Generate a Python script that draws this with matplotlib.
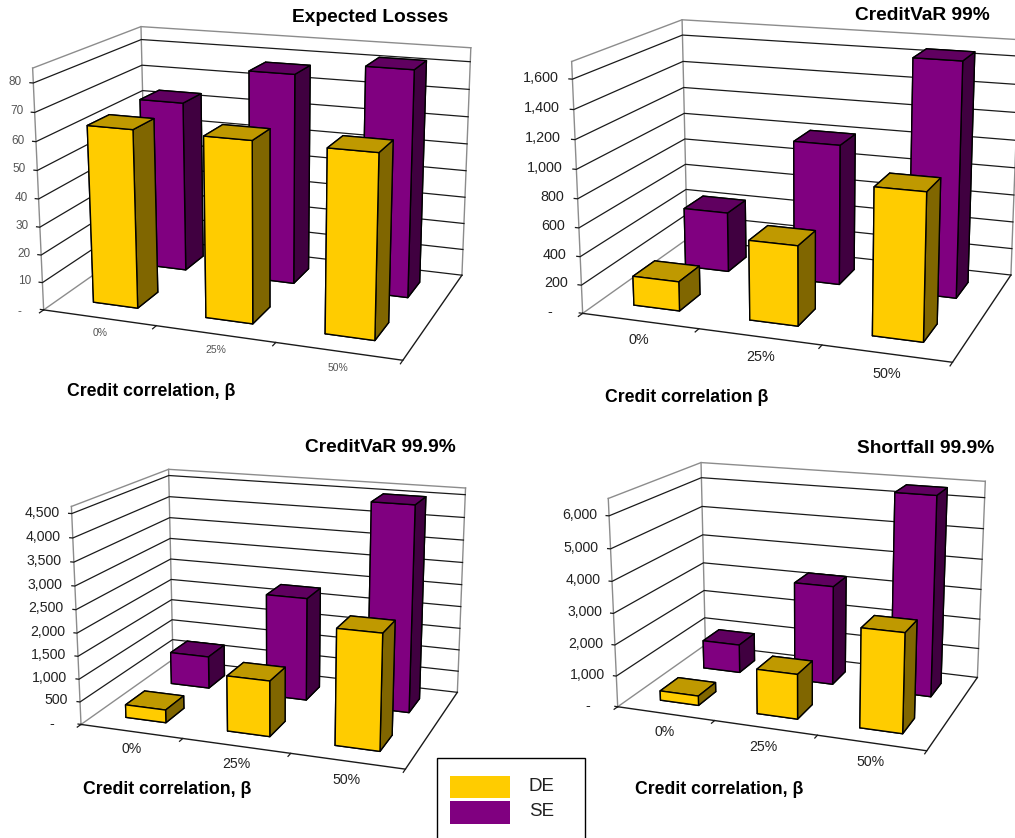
import matplotlib
matplotlib.use('Agg')
import matplotlib.pyplot as plt
from matplotlib.patches import Rectangle
from mpl_toolkits.mplot3d import proj3d

plt.rcParams['font.family'] = ['Liberation Sans', 'DejaVu Sans']

W, H = 1015, 838

categories = ['0%', '25%', '50%']

el_de = [63.7, 63.7, 63.5]
el_se = [63.7, 77.3, 81.9]
el_ticks = [0, 10, 20, 30, 40, 50, 60, 70, 80]

var99_de = [207, 553, 996]
var99_se = [442, 1015, 1660]
var99_ticks = [0, 200, 400, 600, 800, 1000, 1200, 1400, 1600]

var999_de = [283, 1200, 2452]
var999_se = [740, 2320, 4536]
var999_ticks = [0, 500, 1000, 1500, 2000, 2500, 3000, 3500, 4000, 4500]

sf_de = [307, 1420, 3084]
sf_se = [955, 3272, 6431]
sf_ticks = [0, 1000, 2000, 3000, 4000, 5000, 6000]

# front, top and side colours of the bars
de_faces = ['#FFCC00', '#BF9900', '#806600']
se_faces = ['#800080', '#600060', '#400040']

grid_col = '#1a1a1a'
frame_col = '#8c8c8c'


def px(x, y):
    # pixel position, measured from the top left, to figure fraction
    return x / W, 1 - y / H


def tick_text(v):
    return '-' if v == 0 else f'{v:,}'


def put_text(ax, x, y, z, s, **kw):
    # project the 3D position and draw the label as flat text there
    xp, yp, _ = proj3d.proj_transform(x, y, z, ax.get_proj())
    ax.text2D(xp, yp, s, transform=ax.transData, **kw)


def draw_panel(view, scale, x0, y0, zmax, de, se, ticks, tick_fs, cat_fs, txt_col, lab_dx, lab_dy, tick_dx, dash_dx, dash_dz):
    ax = fig.add_axes([0, 0, 1, 1], projection='3d', computed_zorder=False)
    ax.set_axis_off()
    ax.view_init(view[0], view[1], view[2])
    ax.set_proj_type('persp', focal_length=view[3])
    ax.set_box_aspect((1, view[4], view[5]))
    ax.set_xlim(0, 3)
    ax.set_ylim(0, 2)
    ax.set_zlim(0, zmax)

    # place the square axes so the projected box lands where it should
    vl = ax.viewLim
    size = scale * vl.width
    ax.set_position([(x0 + scale * vl.x0) / W, (H - y0 + scale * vl.y0) / H, size / W, size / H])

    # walls and floor edges
    ax.plot([0, 0], [0, 0], [0, zmax], color=frame_col, lw=1, zorder=1)
    ax.plot([0, 0], [2, 2], [0, zmax], color=frame_col, lw=1, zorder=1)
    ax.plot([3, 3], [2, 2], [0, zmax], color=frame_col, lw=1, zorder=1)
    ax.plot([0, 0, 3], [0, 2, 2], [zmax, zmax, zmax], color=frame_col, lw=1, zorder=1)
    ax.plot([0, 0], [0, 2], [0, 0], color=frame_col, lw=1, zorder=1)
    ax.plot([0, 3, 3], [0, 0, 2], [0, 0, 0], color=grid_col, lw=1, zorder=2)
    for v in ticks:
        if v == 0:
            ax.plot([0, 3], [2, 2], [0, 0], color=grid_col, lw=0.9, zorder=2)
            ax.plot([-0.03, 0], [0, 0], [0, 0], color=grid_col, lw=0.9, zorder=2)
            put_text(ax, -(tick_dx + dash_dx), 0, -dash_dz * zmax, tick_text(v),
                     ha='right', va='center', fontsize=tick_fs, color=txt_col)
        else:
            ax.plot([-0.03, 0, 0, 3], [0, 0, 2, 2], [v, v, v, v], color=grid_col, lw=0.9, zorder=2)
            put_text(ax, -tick_dx, 0, v, tick_text(v),
                     ha='right', va='center', fontsize=tick_fs, color=txt_col)

    # category ticks below the front edge
    for i in range(4):
        ax.plot([i, i], [0, -0.07], [0, 0], color=grid_col, lw=0.9, zorder=2)
    for i, name in enumerate(categories):
        put_text(ax, i + 0.5 + lab_dx[i], -lab_dy, 0, name, ha='center', va='center',
                 fontsize=cat_fs, color=txt_col)

    # back row first, then the front row, each from left to right
    order = 3
    for row, values, faces in [(1, se, se_faces), (0, de, de_faces)]:
        for i, v in enumerate(values):
            cols = [faces[1], faces[1], faces[0], faces[0], faces[2], faces[2]]
            ax.bar3d(i + 0.3, row + 0.3, 0, 0.4, 0.4, v, color=cols, shade=False,
                     edgecolor='black', linewidth=1, zorder=order)
            order += 1
    return ax


fig = plt.figure(figsize=(W / 100, H / 100), dpi=100)

draw_panel([15.844, -69.608, 0.098, 0.545, 0.661, 0.665], 2634.11, 259.4, 177.5, 85,
           el_de, el_se, el_ticks, 8.5, 7.5, '#555555', [0.16, 0.13, 0.09], 0.30, 0.10, 0.11, 0.025)
draw_panel([15.377, -70.369, 0.077, 0.545, 0.676, 0.674], 2714.59, 804.3, 174.6, 1715,
           var99_de, var99_se, var99_ticks, 10.4, 10.4, '#222222', [0.17, 0.15, 0.11], 0.36, 0.12, 0.15, 0.012)
draw_panel([15.699, -70.027, 0.023, 0.542, 0.667, 0.665], 2373.95, 275.6, 604.8, 4645,
           var999_de, var999_se, var999_ticks, 10.2, 10.2, '#222222', [0.19, 0.15, 0.11], 0.38, 0.12, 0.16, 0.014)
draw_panel([16.026, -69.597, 0.048, 0.544, 0.656, 0.666], 2265.75, 803.2, 593.0, 6520,
           sf_de, sf_se, sf_ticks, 10.2, 10.2, '#222222', [0.19, 0.15, 0.12], 0.41, 0.12, 0.18, 0.018)

# panel titles
for name, xr, yc in [('Expected Losses', 448, 18), ('CreditVaR 99%', 990, 15),
                     ('CreditVaR 99.9%', 456, 447), ('Shortfall 99.9%', 994, 448)]:
    fig.text(*px(xr, yc), name, ha='right', va='center', fontsize=13.8, fontweight='bold')

# axis titles
for name, xl, yc in [('Credit correlation, β', 67, 391), ('Credit correlation β', 605, 397),
                     ('Credit correlation, β', 83, 789), ('Credit correlation, β', 635, 789)]:
    fig.text(*px(xl, yc), name, ha='left', va='center', fontsize=12.7, fontweight='bold')

# legend box runs off the bottom edge
fig.add_artist(Rectangle(px(437, 860), 148 / W, 102 / H, transform=fig.transFigure,
                         facecolor='white', edgecolor='black', lw=1))
fig.add_artist(Rectangle(px(450, 798), 60 / W, 22 / H, transform=fig.transFigure, facecolor=de_faces[0], lw=0))
fig.add_artist(Rectangle(px(450, 824), 60 / W, 23 / H, transform=fig.transFigure, facecolor=se_faces[0], lw=0))
fig.text(*px(529, 786), 'DE', ha='left', va='center', fontsize=13.5, color='#222222')
fig.text(*px(529, 811), 'SE', ha='left', va='center', fontsize=13.5, color='#222222')

fig.savefig('out.png', dpi=100)
